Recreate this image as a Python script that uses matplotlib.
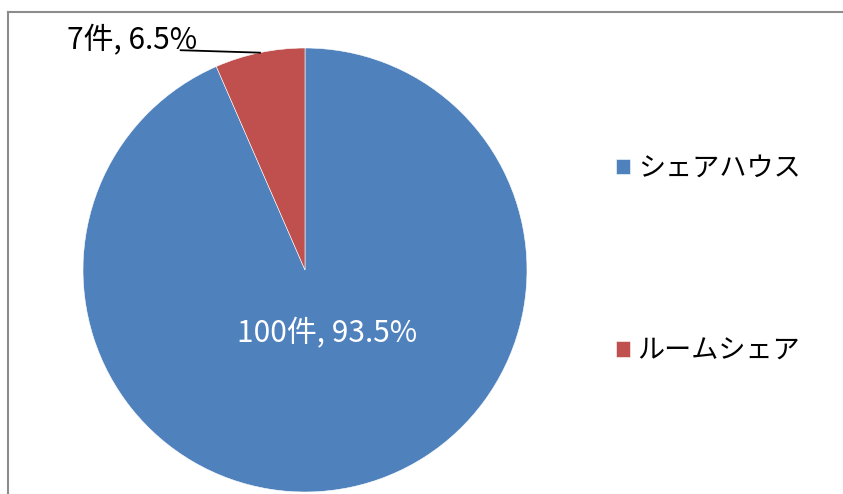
import matplotlib
matplotlib.use("Agg")
import matplotlib.pyplot as plt
from matplotlib.lines import Line2D

plt.rcParams['font.family'] = ['Noto Sans CJK JP', 'DejaVu Sans']

categories = ["シェアハウス", "ルームシェア"]
counts = [100, 7]
percents = ["93.5%", "6.5%"]
colors = ["#4F81BD", "#C0504D"]

W, H = 843, 494
fig = plt.figure(figsize=(W / 100, H / 100), dpi=100)
fig.patch.set_facecolor("white")

cx, cy, r = 305, 270, 222
ax = fig.add_axes([(cx - r) / W, (H - cy - r) / H, 2 * r / W, 2 * r / H])
ax.set_xlim(-1, 1)
ax.set_ylim(-1, 1)
ax.axis("off")

wedges, _ = ax.pie(counts, colors=colors, startangle=90, counterclock=False,
                   radius=1, center=(0, 0), frame=False,
                   wedgeprops=dict(edgecolor="white", linewidth=0.4))
ax.set_xlim(-1, 1)
ax.set_ylim(-1, 1)

labels = [f"{c}件, {p}" for c, p in zip(counts, percents)]
ax.text(0.10, -0.285, labels[0], color="white", fontsize=21.5,
        ha="center", va="center", clip_on=False)
ax.text(-0.78, 1.035, labels[1], color="black", fontsize=21.5,
        ha="center", va="center", clip_on=False)
ax.add_line(Line2D([-0.56, -0.203], [0.99, 0.979], color="black", lw=1.3,
                   clip_on=False))

leg = fig.legend(wedges, categories, loc="upper left",
                 bbox_to_anchor=(616 / W, 1 - 155 / H), frameon=False,
                 fontsize=19.5, handlelength=0.5, handleheight=0.5,
                 handletextpad=0.3, labelspacing=5.75, borderaxespad=0,
                 borderpad=0)

# chart frame (top and left edges visible)
fig.add_artist(Line2D([8 / W, 8 / W], [0, 1 - 12 / H], transform=fig.transFigure,
                      color="#8c8c8c", lw=1.5))
fig.add_artist(Line2D([8 / W, 1], [1 - 12 / H, 1 - 12 / H], transform=fig.transFigure,
                      color="#8c8c8c", lw=1.5))

fig.savefig("out.png", dpi=100)
